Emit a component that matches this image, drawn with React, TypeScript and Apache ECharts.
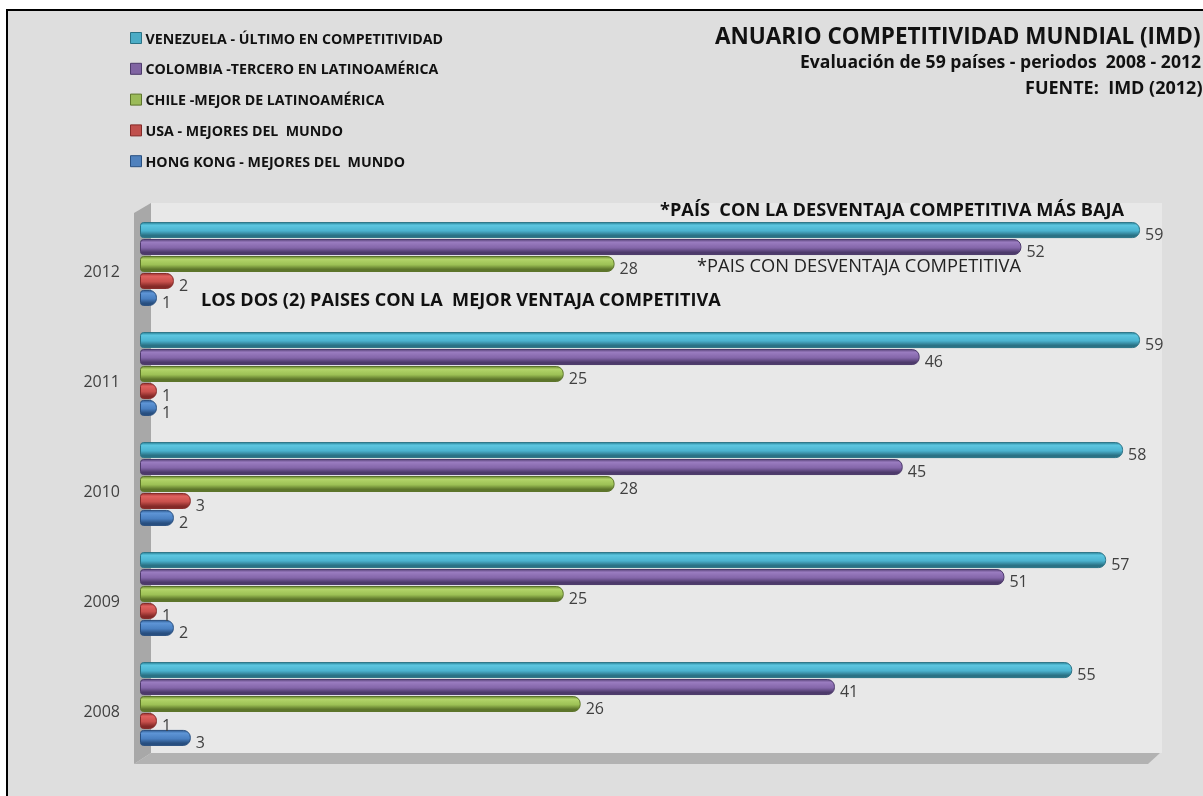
import React, { useEffect, useRef } from "react";
import * as echarts from "echarts";

const years = ["2008", "2009", "2010", "2011", "2012"];
const venezuela = [55, 57, 58, 59, 59];
const colombia = [41, 51, 45, 46, 52];
const chile = [26, 25, 28, 25, 28];
const usa = [1, 1, 3, 1, 2];
const hongkong = [3, 2, 2, 1, 1];

const names = [
  "VENEZUELA - ÚLTIMO EN COMPETITIVIDAD",
  "COLOMBIA -TERCERO EN LATINOAMÉRICA",
  "CHILE -MEJOR DE LATINOAMÉRICA",
  "USA - MEJORES DEL  MUNDO",
  "HONG KONG - MEJORES DEL  MUNDO",
];
const colors = [
  ["#2f8aa0", "#5cc6e0", "#4bb3cf", "#2a7285"],
  ["#5f4880", "#9a7cc0", "#8466aa", "#4d3a6b"],
  ["#6f8a35", "#b3d56a", "#9cc055", "#5d752b"],
  ["#9a3331", "#e0625f", "#c8504c", "#842a28"],
  ["#315f96", "#5e95d6", "#4a80c2", "#284f80"],
];
const flat = ["#4bacc6", "#8064a2", "#9bbb59", "#c0504d", "#4f81bd"];
const values = [venezuela, colombia, chile, usa, hongkong];

const FONT = "'Open Sans', Lato, sans-serif";

function grad(c: string[]) {
  return new echarts.graphic.LinearGradient(0, 0, 0, 1, [
    { offset: 0, color: c[0] },
    { offset: 0.18, color: c[1] },
    { offset: 0.55, color: c[2] },
    { offset: 0.85, color: c[3] },
    { offset: 1, color: c[3] },
  ]);
}

function txt(text: string, x: number, y: number, size: number, bold: boolean, fill = "#111") {
  return {
    type: "text",
    z: 100,
    x,
    y,
    style: {
      text,
      fontFamily: FONT,
      fontWeight: bold ? "bold" : "normal",
      fontSize: size,
      fill,
      verticalAlign: "middle",
    },
  };
}

export default function App() {
  const ref = useRef<HTMLDivElement>(null);
  useEffect(() => {
    if (!ref.current) return;
    const chart = echarts.init(ref.current, null, { renderer: "svg" });
    const series = names.map((n, i) => ({
      name: n,
      type: "bar",
      data: values[i],
      barWidth: 16,
      barGap: "6%",
      z: 5,
      itemStyle: {
        color: grad(colors[i]),
        borderColor: colors[i][3],
        borderWidth: 1,
        borderRadius: [3, 7, 7, 3],
      },
      label: {
        show: true,
        position: "right",
        distance: 5,
        offset: [0, 4],
        color: "#404040",
        fontSize: 16,
        fontFamily: FONT,
      },
    }));
    chart.setOption({
      animation: false,
      legend: {
        orient: "vertical",
        left: 125,
        top: 26,
        itemWidth: 11,
        itemHeight: 11,
        itemGap: 16.8,
        icon: "rect",
        textStyle: {
          fontFamily: FONT,
          fontWeight: "bold",
          fontSize: 14.2,
          color: "#111",
          padding: [0, 0, 0, -1],
        },
        data: names.map((n, i) => ({
          name: n,
          itemStyle: { color: flat[i], borderColor: colors[i][3], borderWidth: 1 },
        })),
      },
      grid: { left: 140, top: 209, width: 1017, height: 550, containLabel: false },
      xAxis: { type: "value", min: 0, max: 60, show: false },
      yAxis: {
        type: "category",
        data: years,
        axisLine: { show: false },
        axisTick: { show: false },
        splitLine: { show: false },
        axisLabel: {
          margin: 20,
          fontSize: 16,
          color: "#404040",
          fontFamily: FONT,
          verticalAlign: "top",
          lineHeight: 14,
        },
      },
      graphic: [
        {
          type: "rect",
          z: -30,
          shape: { x: 7, y: 10, width: 1220, height: 800 },
          style: { fill: "#dedede", stroke: "#000", lineWidth: 2 },
        },
        {
          type: "rect",
          z: -20,
          shape: { x: 151, y: 203, width: 1011, height: 550 },
          style: { fill: "#e8e8e8" },
        },
        {
          type: "polygon",
          z: -19,
          shape: { points: [[134, 213], [151, 203], [151, 753], [134, 764]] },
          style: { fill: "#a8a8a8" },
        },
        {
          type: "polygon",
          z: -19,
          shape: { points: [[134, 764], [151, 753], [1160, 753], [1148, 764]] },
          style: { fill: "#b2b2b2" },
        },
        txt("ANUARIO COMPETITIVIDAD MUNDIAL (IMD)", 715, 35, 22.5, true),
        txt("Evaluación de 59 países - periodos  2008 - 2012", 800, 61, 17.6, true),
        txt("FUENTE:  IMD (2012)", 1025, 87, 18, true),
        txt("*PAÍS  CON LA DESVENTAJA COMPETITIVA MÁS BAJA", 660, 209, 18.2, true),
        txt("*PAIS CON DESVENTAJA COMPETITIVA", 697, 264, 18.3, false, "#222"),
        txt("LOS DOS (2) PAISES CON LA  MEJOR VENTAJA COMPETITIVA", 201, 299, 18.1, true),
      ],
      series,
    });
    return () => chart.dispose();
  }, []);
  return (
    <div
      ref={ref}
      style={{ position: "fixed", left: 0, top: 0, width: 1203, height: 796 }}
    />
  );
}
